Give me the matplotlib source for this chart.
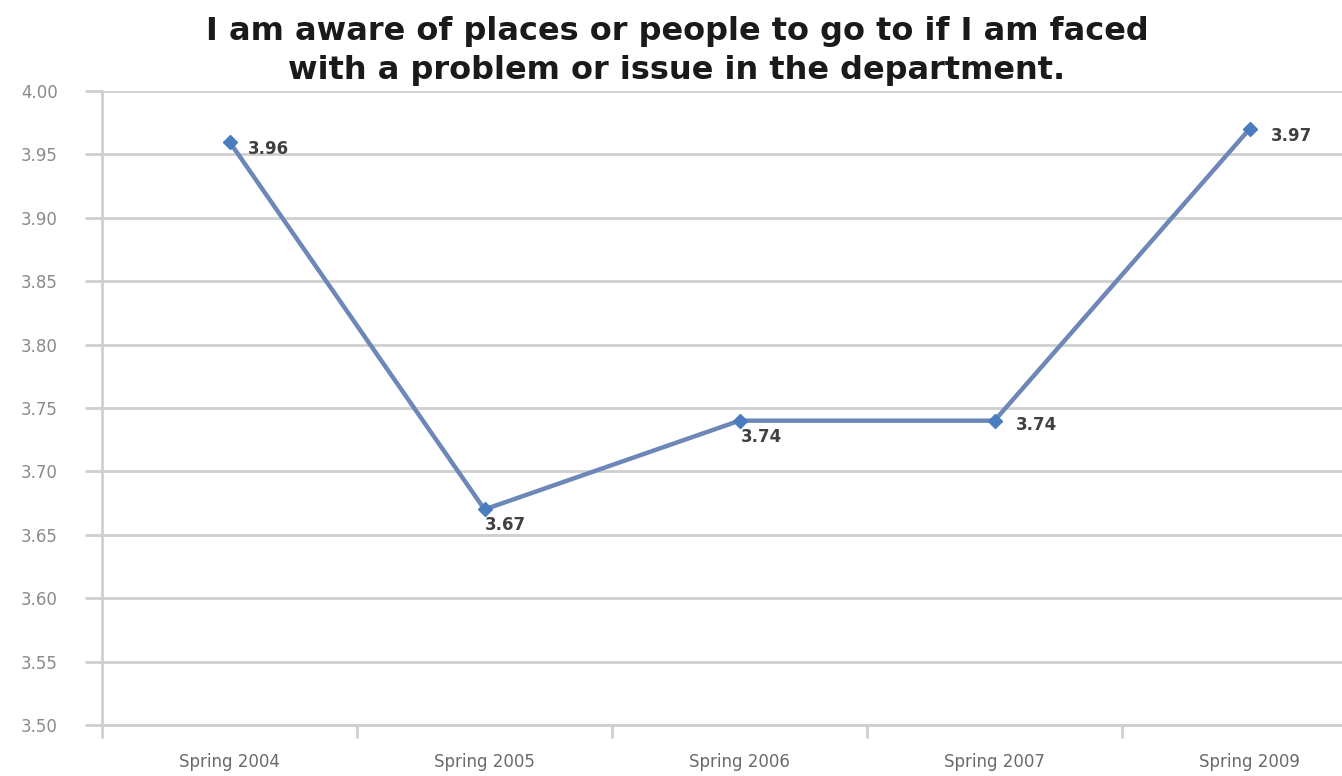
import matplotlib
matplotlib.use('Agg')
import matplotlib.pyplot as plt
import numpy as np

# data
terms = ['Spring 2004', 'Spring 2005', 'Spring 2006', 'Spring 2007', 'Spring 2009']
scores = [3.96, 3.67, 3.74, 3.74, 3.97]
yticks = [3.50, 3.55, 3.60, 3.65, 3.70, 3.75, 3.80, 3.85, 3.90, 3.95, 4.00]
title = 'I am aware of places or people to go to if I am faced\nwith a problem or issue in the department.'

# label offsets (points), like Excel placed them
label_off = [(28, -5), (15, -11), (16, -12), (30, -3), (30, -5)]

GRID = '#cfcfcf'
fig = plt.figure(figsize=(13.42, 7.76), dpi=100)
ax = fig.add_axes([102/1342, 1-725/776, 1275/1342, (725-91)/776])

x = np.arange(len(terms))
ax.plot(x, scores, color='#6c87b8', lw=3.2, zorder=3,
        marker='D', ms=7, mfc='#4a7cc0', mec='#4a7cc0')
for xi, v, off in zip(x, scores, label_off):
    ax.annotate(f'{v:.2f}', (xi, v), xytext=off, textcoords='offset points',
                ha='center', va='center', fontsize=12, fontweight='bold', color='#404040')

ax.set_xlim(-0.5, len(terms) - 0.5)
ax.set_ylim(3.50, 4.00)
ax.set_yticks(yticks)
ax.set_yticklabels([f'{t:.2f}' for t in yticks], color='#8a8a8a', fontsize=12)
ax.set_xticks(x)
ax.set_xticklabels(terms, color='#6a6a6a', fontsize=12)
ax.tick_params(axis='x', length=0, pad=20)
ax.set_xticks(np.arange(len(terms) + 1) - 0.5, minor=True)
ax.tick_params(axis='x', which='minor', length=9, width=2, color=GRID)
ax.tick_params(axis='y', length=12, width=2, color=GRID, pad=20)
ax.grid(axis='y', color=GRID, lw=2)
ax.set_axisbelow(True)
for s in ['top', 'right']:
    ax.spines[s].set_visible(False)
for s in ['left', 'bottom']:
    ax.spines[s].set_color(GRID)
    ax.spines[s].set_linewidth(2)

fig.text(677/1342, 1-51/776, title, ha='center', va='center', fontsize=23,
         fontweight='bold', color='#1a1a1a', linespacing=1.32)

fig.savefig('out.png', dpi=100, facecolor='white')
